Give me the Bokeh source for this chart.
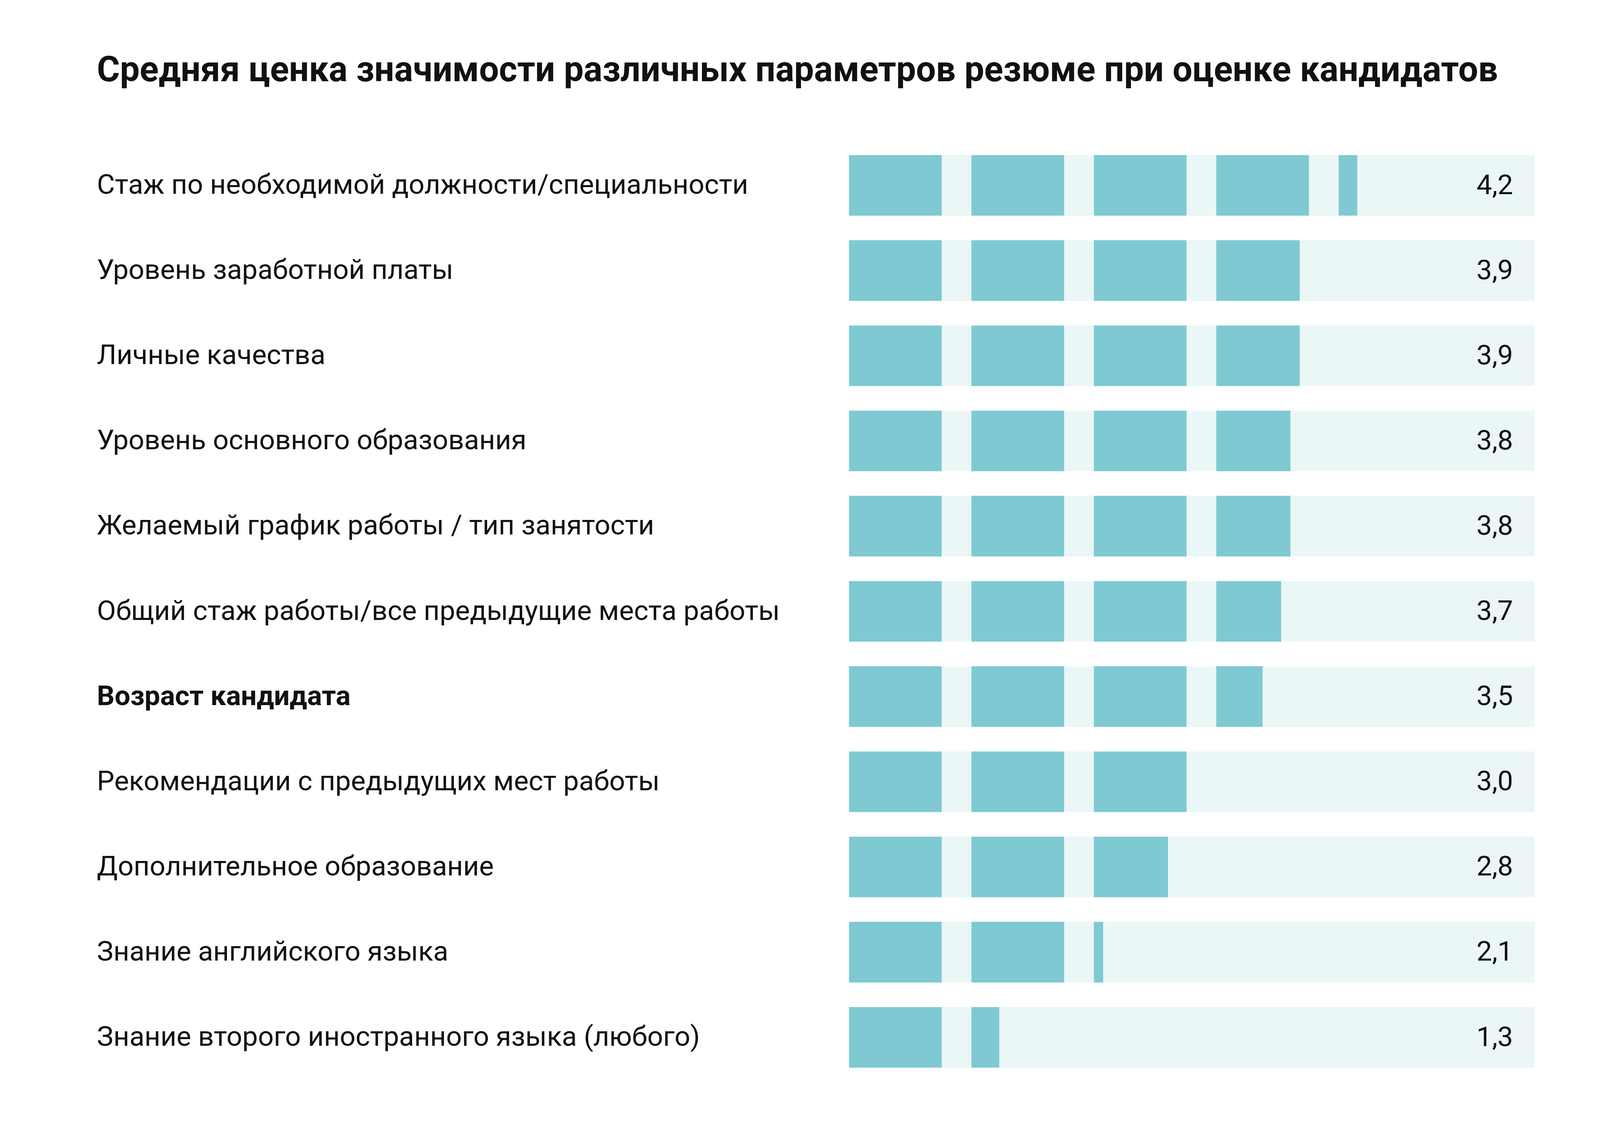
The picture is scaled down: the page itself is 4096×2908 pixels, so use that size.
from bokeh.plotting import figure
from bokeh.models import Range1d, ColumnDataSource
from bokeh.core.properties import value
from bokeh.embed import file_html
from bokeh.resources import INLINE

# ---- data ----
title_text = "Средняя ценка значимости различных параметров резюме при оценке кандидатов"
labels = [
    "Стаж по необходимой должности/специальности",
    "Уровень заработной платы",
    "Личные качества",
    "Уровень основного образования",
    "Желаемый график работы / тип занятости",
    "Общий стаж работы/все предыдущие места работы",
    "Возраст кандидата",
    "Рекомендации с предыдущих мест работы",
    "Дополнительное образование",
    "Знание английского языка",
    "Знание второго иностранного языка (любого)",
]
values = [4.2, 3.9, 3.9, 3.8, 3.8, 3.7, 3.5, 3.0, 2.8, 2.1, 1.3]
bold_rows = [6]
max_units = 5

# ---- style ----
W, H = 4080, 2892
UNIT_PX = 313.4
ROW_PX = 218.1
X0_PX = 2173.0
Y0_PX = 474.0
SEG_W = 0.757
BAR_H = 0.711
BAR_COLOR = "#7FC9D3"
BG_COLOR = "#EBF7F7"
FONT = "Roboto"
LAB_SIZE = "71px"

p = figure(width=W, height=H, output_backend="svg", toolbar_location=None,
           x_range=Range1d(-X0_PX / UNIT_PX, (W - X0_PX) / UNIT_PX),
           y_range=Range1d((H - Y0_PX) / ROW_PX, -Y0_PX / ROW_PX),
           min_border=0, outline_line_color=None)
p.axis.visible = False
p.grid.visible = False
p.background_fill_color = "white"
p.border_fill_color = "white"

rows = list(range(len(labels)))

# background bars
p.hbar(y=rows, left=0, right=5.6, height=BAR_H, color=BG_COLOR, line_color=None)

# filled segments
seg_y, seg_l, seg_r = [], [], []
for r, v in zip(rows, values):
    for i in range(max_units):
        frac = min(1.0, max(0.0, v - i))
        if frac > 0:
            seg_y.append(r)
            seg_l.append(i)
            seg_r.append(i + frac * SEG_W)
p.hbar(y=seg_y, left=seg_l, right=seg_r, height=BAR_H, color=BAR_COLOR, line_color=None)

base_off = -3.0 / ROW_PX
lab_x = (247.6 - X0_PX) / UNIT_PX

normal = [r for r in rows if r not in bold_rows]
src_n = ColumnDataSource(dict(x=[lab_x] * len(normal), y=[r + base_off for r in normal],
                              t=[labels[r] for r in normal]))
src_b = ColumnDataSource(dict(x=[lab_x] * len(bold_rows), y=[r + base_off for r in bold_rows],
                              t=[labels[r] for r in bold_rows]))
p.text(x="x", y="y", text="t", source=src_n, text_font=value(FONT), text_font_size=LAB_SIZE,
       text_color="#111111", text_baseline="alphabetic", text_align="left")
p.text(x="x", y="y", text="t", source=src_b, text_font=value(FONT), text_font_size=LAB_SIZE,
       text_font_style="bold", text_color="#111111", text_baseline="alphabetic", text_align="left")

val_x = (3873 - X0_PX) / UNIT_PX
vals_txt = [f"{v:.1f}".replace(".", ",") for v in values]
p.text(x=[val_x] * len(values), y=[r + base_off for r in rows], text=vals_txt,
       text_font=value(FONT), text_font_size=LAB_SIZE, text_color="#111111",
       text_baseline="alphabetic", text_align="right")

# title
p.text(x=[lab_x], y=[(177 - Y0_PX) / ROW_PX], text=[title_text], text_font=value(FONT),
       text_font_size="90px", text_font_style="bold", text_color="#111111",
       text_baseline="alphabetic", text_align="left")

open("out.html", "w").write(file_html(p, INLINE))
